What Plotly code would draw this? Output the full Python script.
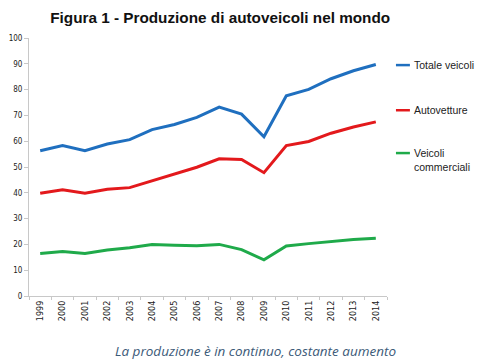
import plotly.graph_objects as go

years = [str(y) for y in range(1999, 2015)]
totale = [56.3, 58.3, 56.3, 58.9, 60.6, 64.5, 66.5, 69.2, 73.2, 70.5, 61.7, 77.6, 80.1, 84.2, 87.3, 89.7]
autovetture = [39.8, 41.2, 39.8, 41.4, 42.0, 44.6, 47.0, 49.9, 53.2, 52.9, 47.8, 58.3, 59.9, 63.1, 65.5, 67.5]
commerciali = [16.5, 17.2, 16.5, 17.8, 18.7, 20.0, 19.7, 19.5, 20.0, 18.0, 14.0, 19.4, 20.3, 21.2, 21.9, 22.4]
series_names = ["Totale veicoli", "Autovetture", "Veicoli<br>commerciali"]
colors = ["#1f6fbf", "#e3191c", "#1faa4a"]

fig = go.Figure()
for vals, name, c in zip([totale, autovetture, commerciali], series_names, colors):
    fig.add_trace(go.Scatter(x=years, y=vals, mode="lines", name=name,
                             line=dict(color=c, width=3), showlegend=False))

# legend built as annotations + line samples
leg_y = [0.895, 0.72, 0.554]
for name, c, yy in zip(series_names, colors, leg_y):
    fig.add_shape(type="line", xref="paper", yref="paper", x0=1.025, x1=1.064, y0=yy, y1=yy,
                  line=dict(color=c, width=2.5))
    fig.add_annotation(xref="paper", yref="paper", x=1.07, y=yy, text=name, showarrow=False,
                       xanchor="left", yanchor="top" if "<br>" in name else "middle",
                       yshift=8 if "<br>" in name else 0, align="left",
                       font=dict(family="Liberation Sans", size=10.5, color="#222"))

fig.update_layout(
    width=480, height=360,
    margin=dict(l=29, r=93, t=38, b=64),
    paper_bgcolor="white", plot_bgcolor="white",
    title=dict(text="<b>Figura 1 - Produzione di autoveicoli nel mondo</b>", xref="paper", x=0.534,
               xanchor="center", y=0.951, yanchor="middle",
               font=dict(family="Liberation Sans, Arial", size=15.3, color="#111")),
    xaxis=dict(type="category", range=[-0.5, 15.5], showgrid=False, showline=True, automargin=False,
               linecolor="#c8c8c8", ticks="outside", ticklen=3, tickcolor="#c8c8c8",
               tickson="boundaries", tickangle=-90,
               tickfont=dict(family="DejaVu Sans Condensed, Liberation Sans", size=9, color="#222")),
    yaxis=dict(range=[0, 100], dtick=10, showgrid=False, showline=True, linecolor="#c8c8c8",
               automargin=False, ticks="outside", ticklen=4, tickcolor="#c8c8c8", zeroline=False,
               tickfont=dict(family="DejaVu Sans Condensed, Liberation Sans", size=8, color="#222")),
)
fig.add_annotation(xref="paper", yref="paper", x=0.634, y=-0.212, yanchor="middle",
                   text="<i>La produzione è in continuo, costante aumento</i>", showarrow=False,
                   font=dict(family="Open Sans, Lato", size=13.5, color="#3c5a78"))

fig.write_html("out.html", config={"displayModeBar": False},
               post_script="document.body.style.margin='0';")
